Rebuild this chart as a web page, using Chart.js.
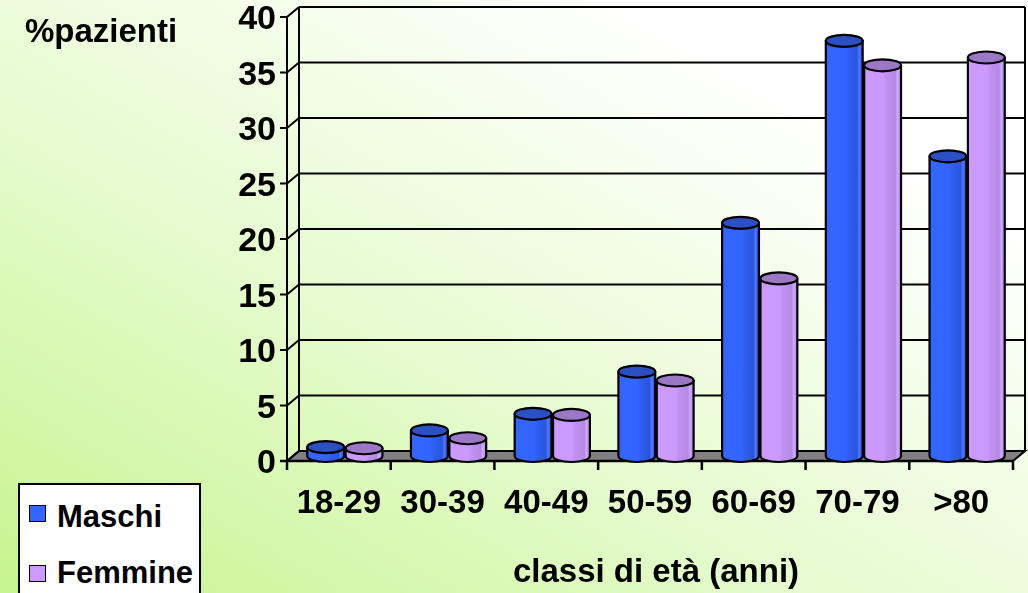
<!DOCTYPE html>
<html>
<head>
<meta charset="utf-8">
<script src="https://cdn.jsdelivr.net/npm/chart.js@4.4.1/dist/chart.umd.min.js"></script>
<style>
  html, body { margin:0; padding:0; }
  body { width:1028px; height:593px; overflow:hidden;
    background: linear-gradient(to top right, #c6f48e 0%, #e6fbcf 40%, #ffffff 80%); }
  #wrap { position:relative; width:1028px; height:593px; }
  #c { position:absolute; left:0; top:0; }
  .txt { position:absolute; font-family:"Liberation Sans", Arial, sans-serif; font-weight:bold; color:#000; white-space:nowrap; }
  #ylab { left:25px; top:14px; font-size:33px; line-height:33px; }
  #legend { position:absolute; left:18px; top:483px; width:179px; height:120px; border:2px solid #000; background:#fff; }
  .sw { position:absolute; width:15px; height:15px; border:1.5px solid #000; }
</style>
</head>
<body>
<div id="wrap">
  <canvas id="c" width="1028" height="593"></canvas>
  <div id="ylab" class="txt">%pazienti</div>
  <div id="legend">
    <div class="sw" style="left:9px;top:20px;background:#3366ff"></div>
    <div class="txt" style="left:37px;top:16px;font-size:31px;line-height:31px">Maschi</div>
    <div class="sw" style="left:9px;top:80px;background:#cc99ff"></div>
    <div class="txt" style="left:37px;top:72px;font-size:31px;line-height:31px">Femmine</div>
  </div>
</div>
<script>
const categories = ['18-29', '30-39', '40-49', '50-59', '60-69', '70-79', '>80'];
const maschi  = [0.8, 2.3, 3.8, 7.6, 21.0, 37.4, 27.0];
const femmine = [0.7, 1.6, 3.7, 6.8, 16.0, 35.2, 35.9];
const seriesNames = ['Maschi', 'Femmine'];
const yMin = 0, yMax = 40, yStep = 5;
const xTitle = 'classi di età (anni)';

const FONT = '"Liberation Sans", Arial, sans-serif';
const DX = 12, DY = 10; // depth of the 3D frame

const styles = [
  { body: ['#3366ff', '#3366ff', '#2f5ff0', '#2a55dd', '#4d78ff', '#2a52d6'], top: '#2a50c4' },
  { body: ['#cc99ff', '#cc99ff', '#c08ff2', '#b38be3', '#d2a8ff', '#b085e0'], top: '#9b77c6' }
];

const threeD = {
  id: 'threeD',
  beforeDatasetsDraw(chart) {
    const ctx = chart.ctx, y = chart.scales.y, x = chart.scales.x;
    const hx = DX / 2, hy = DY / 2;
    const fl = x.left - hx, fr = x.right - hx;
    const bl = x.left + hx, br = x.right + hx;
    const f0 = y.getPixelForValue(yMin) + hy;
    const b0 = y.getPixelForValue(yMin) - hy;
    ctx.save();
    ctx.strokeStyle = '#000';
    ctx.lineWidth = 2;
    ctx.lineCap = 'butt';
    ctx.beginPath();
    ctx.moveTo(fl, f0); ctx.lineTo(fr, f0); ctx.lineTo(br, b0); ctx.lineTo(bl, b0); ctx.closePath();
    ctx.fillStyle = '#808080'; ctx.fill(); ctx.stroke();
    for (let v = yMin; v <= yMax; v += yStep) {
      const p = y.getPixelForValue(v);
      ctx.beginPath();
      ctx.moveTo(bl, p - hy); ctx.lineTo(br, p - hy);
      ctx.moveTo(fl, p + hy); ctx.lineTo(bl, p - hy);
      ctx.moveTo(fl - 7, p + hy); ctx.lineTo(fl, p + hy);
      ctx.stroke();
    }
    const topP = y.getPixelForValue(yMax);
    ctx.beginPath();
    ctx.moveTo(fl, topP + hy); ctx.lineTo(fl, f0);
    ctx.moveTo(bl, topP - hy); ctx.lineTo(bl, b0);
    ctx.moveTo(br, topP - hy); ctx.lineTo(br, b0);
    ctx.stroke();
    ctx.lineWidth = 2.5;
    ctx.beginPath();
    ctx.moveTo(fl - 7, f0); ctx.lineTo(fr, f0);
    const cw = (x.right - x.left) / categories.length;
    for (let i = 0; i <= categories.length; i++) {
      const px = fl + i * cw;
      ctx.moveTo(px, f0); ctx.lineTo(px, f0 + 9);
    }
    ctx.stroke();
    ctx.restore();
  },
  beforeDatasetDraw() { return false; },
  afterDatasetsDraw(chart) {
    const ctx = chart.ctx;
    const metas = chart.data.datasets.map((d, i) => chart.getDatasetMeta(i));
    const n = categories.length;
    ctx.save();
    for (let j = 0; j < n; j++) {
      metas.forEach((meta, si) => {
        const el = meta.data[j];
        const st = styles[si];
        const cx = el.x, top = el.y, base = el.base;
        const rx = el.width / 2, ry = 6;
        const g = ctx.createLinearGradient(cx - rx, 0, cx + rx, 0);
        const stops = [0, 0.5, 0.62, 0.85, 0.9, 1];
        stops.forEach((s, k) => g.addColorStop(s, st.body[k]));
        ctx.beginPath();
        ctx.moveTo(cx - rx, top);
        ctx.lineTo(cx - rx, base);
        ctx.ellipse(cx, base, rx, ry, 0, Math.PI, 0, true);
        ctx.lineTo(cx + rx, top);
        ctx.closePath();
        ctx.fillStyle = g; ctx.fill();
        ctx.strokeStyle = '#000'; ctx.lineWidth = 2.2; ctx.lineJoin = 'round';
        ctx.stroke();
        ctx.beginPath();
        ctx.ellipse(cx, top, rx, ry, 0, 0, Math.PI * 2);
        ctx.fillStyle = st.top; ctx.fill(); ctx.stroke();
      });
    }
    ctx.restore();
  }
};

new Chart(document.getElementById('c'), {
  type: 'bar',
  data: {
    labels: categories,
    datasets: [
      { label: seriesNames[0], data: maschi, backgroundColor: '#3366ff' },
      { label: seriesNames[1], data: femmine, backgroundColor: '#cc99ff' }
    ]
  },
  options: {
    responsive: false,
    devicePixelRatio: 1,
    animation: false,
    events: [],
    layout: { padding: { left: 0, right: 9, top: 12, bottom: 0 } },
    categoryPercentage: 0.74,
    barPercentage: 0.96,
    plugins: { legend: { display: false }, tooltip: { enabled: false }, title: { display: false } },
    scales: {
      x: {
        grid: { display: false, drawTicks: false },
        border: { display: false },
        ticks: { color: '#000', font: { family: FONT, weight: 'bold', size: 33 }, padding: 28, labelOffset: -6, maxRotation: 0, autoSkip: false },
        title: { display: true, text: xTitle, color: '#000', font: { family: FONT, weight: 'bold', size: 33 }, padding: { top: 0, bottom: 0 } },
        afterFit(s) { s.height = 137; s.paddingLeft = 0; s.paddingRight = 0; }
      },
      y: {
        min: yMin, max: yMax,
        grid: { display: false, drawTicks: false },
        border: { display: false },
        ticks: { stepSize: yStep, color: '#000', font: { family: FONT, weight: 'bold', size: 34 }, padding: 17, labelOffset: 8 },
        afterFit(s) { s.width = 293; s.paddingTop = 0; s.paddingBottom = 0; }
      }
    }
  },
  plugins: [threeD]
});
</script>
</body>
</html>
